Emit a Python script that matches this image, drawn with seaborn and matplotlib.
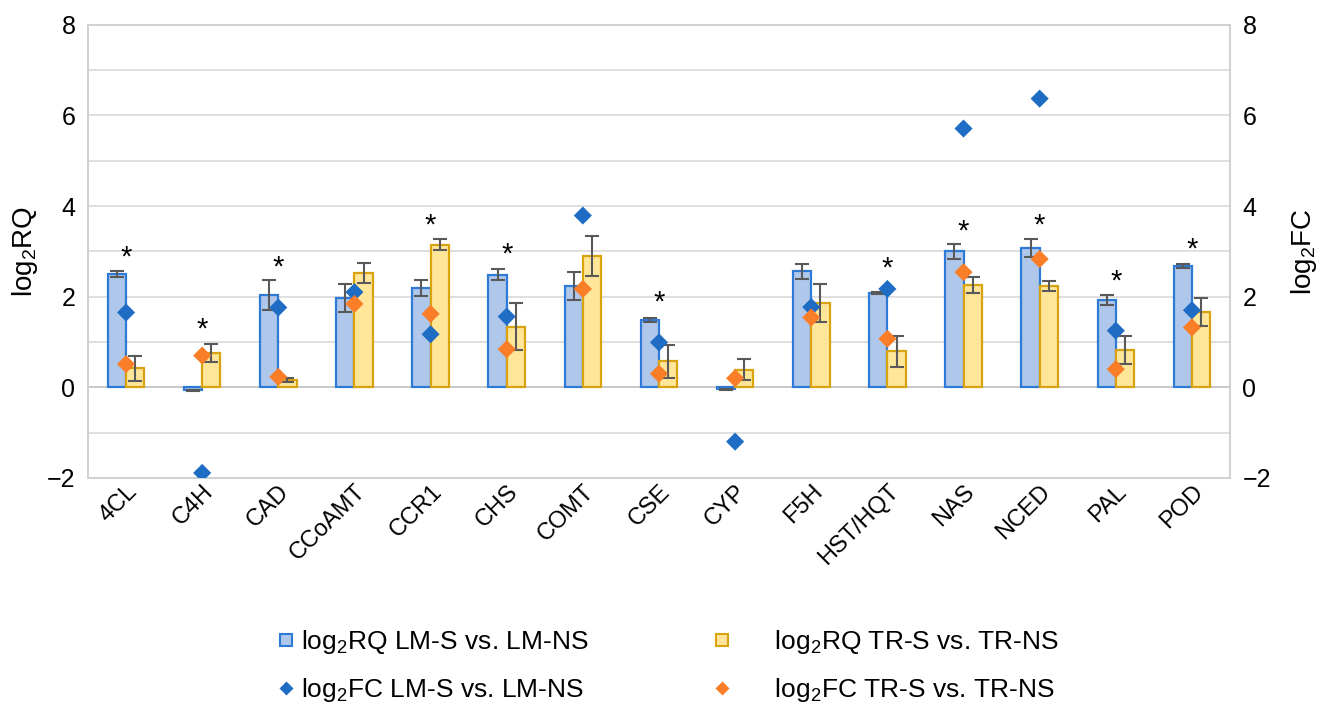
import numpy as np
import pandas as pd
import matplotlib.pyplot as plt
import seaborn as sns
from matplotlib.lines import Line2D

# values
genes = ['4CL', 'C4H', 'CAD', 'CCoAMT', 'CCR1', 'CHS', 'COMT', 'CSE', 'CYP',
         'F5H', 'HST/HQT', 'NAS', 'NCED', 'PAL', 'POD']
rq_lm = [2.50, -0.07, 2.04, 1.97, 2.19, 2.48, 2.23, 1.49, -0.04,
         2.56, 2.08, 3.00, 3.07, 1.93, 2.67]
rq_lm_err = [0.06, 0.02, 0.33, 0.30, 0.17, 0.12, 0.31, 0.04, 0.01,
             0.17, 0.02, 0.17, 0.20, 0.11, 0.04]
rq_tr = [0.42, 0.75, 0.16, 2.52, 3.15, 1.34, 2.89, 0.57, 0.39,
         1.86, 0.79, 2.26, 2.23, 0.83, 1.66]
rq_tr_err = [0.28, 0.20, 0.05, 0.22, 0.12, 0.52, 0.44, 0.37, 0.24,
             0.42, 0.35, 0.18, 0.11, 0.31, 0.31]
fc_lm = [1.65, -1.89, 1.76, 2.10, 1.17, 1.56, 3.79, 0.99, -1.20,
         1.77, 2.17, 5.71, 6.37, 1.25, 1.70]
fc_tr = [0.51, 0.70, 0.23, 1.84, 1.62, 0.84, 2.17, 0.30, 0.20,
         1.54, 1.07, 2.54, 2.83, 0.40, 1.32]
star_y = [2.86, 1.27, 2.65, None, 3.56, 2.92, None, 1.86, None,
          None, 2.63, 3.44, 3.57, 2.34, 3.04]

series_rq = ['log$_2$RQ LM-S vs. LM-NS', 'log$_2$RQ TR-S vs. TR-NS']
series_fc = ['log$_2$FC LM-S vs. LM-NS', 'log$_2$FC TR-S vs. TR-NS']

fill_cols = ['#aec7ea', '#ffe699']
edge_cols = ['#2f7ad6', '#d9a20f']
dot_cols = ['#1f6cc4', '#fa7d28']

sns.set_theme(style='white')
plt.rcParams['font.family'] = ['Liberation Sans', 'DejaVu Sans']
plt.rcParams['mathtext.fontset'] = 'custom'
plt.rcParams['mathtext.rm'] = 'Liberation Sans'
plt.rcParams['mathtext.it'] = 'Liberation Sans'
plt.rcParams['text.color'] = 'black'
plt.rcParams['axes.labelcolor'] = 'black'
plt.rcParams['xtick.color'] = 'black'
plt.rcParams['ytick.color'] = 'black'

df_rq = pd.DataFrame({
    'gene': genes * 2,
    'value': rq_lm + rq_tr,
    'err': rq_lm_err + rq_tr_err,
    'series': [series_rq[0]] * len(genes) + [series_rq[1]] * len(genes),
})
df_fc = pd.DataFrame({
    'gene': genes * 2,
    'value': fc_lm + fc_tr,
    'series': [series_fc[0]] * len(genes) + [series_fc[1]] * len(genes),
})

fig = plt.figure(figsize=(13.21, 7.08), dpi=100)
ax = fig.add_axes([0.0666, 0.325, 0.8645, 0.64])

# horizontal grid at every integer
for yv in range(-2, 9):
    ax.axhline(yv, color='#d9d9d9' if yv != 0 else '#bfbfbf', lw=1.2, zorder=0)

sns.barplot(data=df_rq, x='gene', y='value', hue='series', order=genes,
            hue_order=series_rq, palette=fill_cols, width=0.48, ax=ax,
            saturation=1, errorbar=None, legend=False, zorder=2)

bar_conts = list(ax.containers)[:2]
for k, cont in enumerate(bar_conts):
    sub = df_rq[df_rq['series'] == series_rq[k]]
    xs = []
    for p in cont.patches:
        p.set_edgecolor(edge_cols[k])
        p.set_linewidth(1.6)
        xs.append(p.get_x() + p.get_width() / 2)
    ax.errorbar(xs, sub['value'].values, yerr=sub['err'].values, fmt='none',
                ecolor='#595959', elinewidth=1.5, capsize=5, capthick=1.5, zorder=3)

ax.set_ylim(-2, 8)
ax.set_xlim(-0.5, len(genes) - 0.5)
ax.set_yticks([-2, 0, 2, 4, 6, 8])
ax.set_yticklabels(['\u22122', '0', '2', '4', '6', '8'])
ax.set_xlabel('')
ax.set_ylabel('log$_2$RQ', fontsize=20, labelpad=5)
ax.tick_params(axis='y', labelsize=18, length=0, pad=9)
ax.tick_params(axis='x', labelsize=17, length=0, pad=2)
plt.setp(ax.get_xticklabels(), rotation=45, ha='right', rotation_mode='anchor')

ax2 = ax.twinx()
sns.scatterplot(data=df_fc, x='gene', y='value', hue='series', hue_order=series_fc,
                palette=dot_cols, marker='D', s=85, edgecolor='none', ax=ax2,
                legend=False, zorder=4)
ax2.set_ylim(-2, 8)
ax2.set_yticks([-2, 0, 2, 4, 6, 8])
ax2.set_yticklabels(['\u22122', '0', '2', '4', '6', '8'])
ax2.set_ylabel('log$_2$FC', fontsize=20, labelpad=13)
ax2.tick_params(axis='y', labelsize=18, length=0, pad=9)

for a in (ax, ax2):
    for sp in a.spines.values():
        sp.set_color('#d0d0d0')
        sp.set_linewidth(1.2)

for i, sy in enumerate(star_y):
    if sy is not None:
        ax2.text(i, sy, '*', ha='center', va='center', fontsize=21, color='black')

handles = [
    Line2D([], [], ls='none', marker='s', markersize=9, markerfacecolor=fill_cols[0],
           markeredgecolor=edge_cols[0], markeredgewidth=1.5),
    Line2D([], [], ls='none', marker='D', markersize=7, markerfacecolor=dot_cols[0],
           markeredgecolor='none'),
    Line2D([], [], ls='none', marker='s', markersize=9, markerfacecolor=fill_cols[1],
           markeredgecolor=edge_cols[1], markeredgewidth=1.5),
    Line2D([], [], ls='none', marker='D', markersize=7, markerfacecolor=dot_cols[1],
           markeredgecolor='none'),
]
labels = [series_rq[0], series_fc[0], '     ' + series_rq[1], '     ' + series_fc[1]]
fig.legend(handles, labels, loc='center', bbox_to_anchor=(0.506, 0.059), ncol=2,
           frameon=False, fontsize=19, handlelength=0.6, handletextpad=0.3,
           columnspacing=4.75, labelspacing=0.75)

fig.savefig('out.png', dpi=100)
